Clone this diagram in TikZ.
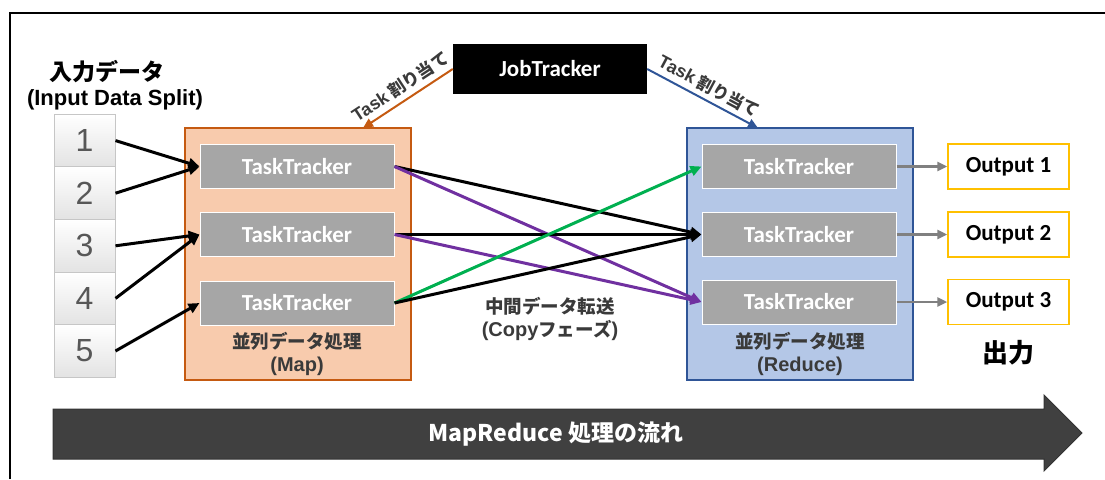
\documentclass[tikz,border=0pt]{standalone}
\usepackage{fontspec}
\setsansfont{Carlito}
\newfontfamily\jp{Noto Sans CJK JP}
\newfontfamily\numfont{Liberation Sans}
\usepackage{tikz}
\usetikzlibrary{arrows.meta}
\definecolor{mapfill}{HTML}{F8CBAD}
\definecolor{mapline}{HTML}{C55A11}
\definecolor{redfill}{HTML}{B4C7E7}
\definecolor{redline}{HTML}{2F5597}
\definecolor{ttgray}{HTML}{A6A6A6}
\definecolor{outline}{HTML}{FFC000}
\definecolor{shufpurple}{HTML}{7030A0}
\definecolor{shufgreen}{HTML}{00B050}
\definecolor{darktext}{HTML}{3A3A3A}
\definecolor{flowfill}{HTML}{404040}
\newcommand{\lat}[1]{{\numfont\bfseries #1}}
\pgfkeys{tikz/tracker/.style={fill=ttgray, draw=white, line width=1pt,
                                  minimum width=194pt, minimum height=44pt, inner sep=0pt,
                                  text=white, font=\sffamily\bfseries\fontsize{23}{25}\selectfont}}
\pgfkeys{tikz/split/.style={top color=white, bottom color=gray!22, draw=gray!45, line width=1pt,
                                minimum width=61pt, minimum height=52.6pt, inner sep=0pt,
                                text=darktext!85, font=\numfont\fontsize{32}{34}\selectfont}}
\pgfkeys{tikz/stage/.style={line width=2.5pt, minimum width=226pt, minimum height=252pt, inner sep=0pt}}
\pgfkeys{tikz/outbox/.style={draw=outline, line width=1.5pt, fill=white,
                                 minimum width=121pt, minimum height=45pt, inner sep=0pt,
                                 font=\sffamily\bfseries\fontsize{23}{25}\selectfont}}
\pgfkeys{tikz/jplabel/.style={text=darktext, align=center,
                                  font=\jp\bfseries\fontsize{18.5}{23}\selectfont}}
\pgfkeys{tikz/tasklabel/.style={midway, above, sloped, inner sep=5pt, text=darktext,
                                    font=\jp\bfseries\fontsize{17}{19}\selectfont}}
\pgfkeys{tikz/link/.style={line width=3pt, -{Triangle[length=11pt,width=10pt]}}}

\begin{document}
\begin{tikzpicture}[x=1pt, y=-1pt]
                \useasboundingbox (0,0) rectangle (1105,479);
                \draw[line width=2.5pt] (10,479) -- (10,13) -- (1105,13);

                \node (intitle) at (107, 72) {\jp\bfseries\fontsize{23}{25}\selectfont 入力データ};
                \node (insub) at (115, 100) {\fontsize{22}{24}\selectfont\lat{(Input Data Split)}};

                \node[split] (in1) at (84.5, 140.6) {1};
                \node[split] (in2) at (84.5, 193.2) {2};
                \node[split] (in3) at (84.5, 245.8) {3};
                \node[split] (in4) at (84.5, 298.4) {4};
                \node[split] (in5) at (84.5, 351.0) {5};

                \node[stage, fill=mapfill, draw=mapline] (mapbox) at (298, 254) {};
                \node[stage, fill=redfill, draw=redline] (redbox) at (800, 254) {};

                \node[tracker] (m1) at (297, 166.5) {TaskTracker};
                \node[tracker] (m2) at (297, 234.5) {TaskTracker};
                \node[tracker] (m3) at (297, 303) {TaskTracker};

                \node[tracker] (r1) at (799, 166.5) {TaskTracker};
                \node[tracker] (r2) at (799, 234.5) {TaskTracker};
                \node[tracker] (r3) at (799, 302) {TaskTracker};

                \node[jplabel] (maplabel) at (297, 354) {並列データ処理\\\fontsize{20}{23}\selectfont\lat{(Map)}};
                \node[jplabel] (redlabel) at (800, 354) {並列データ処理\\\fontsize{20}{23}\selectfont\lat{(Reduce)}};
                \node[jplabel] (copylabel) at (550, 319) {中間データ転送\\{\fontsize{20}{23}\selectfont\lat{(Copy}}フェーズ{\fontsize{20}{23}\selectfont\lat{)}}};

                \node[fill=black, minimum width=194pt, minimum height=50pt, inner sep=0pt,
                      text=white, font=\sffamily\bfseries\fontsize{23}{25}\selectfont] (jt) at (550, 69) {JobTracker};
                \coordinate (mapin) at (363, 128);
                \coordinate (redin) at (758, 128);

                \draw[line width=2pt, mapline, -{Triangle[length=10pt,width=9pt]}] (jt.west) -- (mapin)
                    node[tasklabel] (tasknl) {{\fontsize{18}{19}\selectfont\lat{Task}} 割り当て};
                \draw[line width=2pt, redline, -{Triangle[length=10pt,width=9pt]}] (jt.east) -- (redin)
                    node[tasklabel] (tasknr) {{\fontsize{18}{19}\selectfont\lat{Task}} 割り当て};

                \draw[link] (in1.east) -- (m1.west);
                \draw[link] (in2.east) -- (m1.west);
                \draw[link] (in3.east) -- (m2.west);
                \draw[link] (in4.east) -- (m2.west);
                \draw[link] (in5.east) -- (m3.west);

                \draw[link] (m1.east) -- (r2.west);
                \draw[link, shufpurple] (m1.east) -- (r3.west);
                \draw[link] (m2.east) -- (r2.west);
                \draw[link, shufpurple] (m2.east) -- (r3.west);
                \draw[link, shufgreen] (m3.east) -- (r1.west);
                \draw[link] (m3.east) -- (r2.west);

                \node[outbox] (o1) at (1008.5, 166.5) {Output 1};
                \node[outbox] (o2) at (1008.5, 234.5) {Output 2};
                \node[outbox] (o3) at (1008.5, 302) {Output 3};

                \draw[line width=2.5pt, gray, -{Triangle[length=10pt,width=9pt]}] (r1.east) -- (o1.west);
                \draw[line width=2.5pt, gray, -{Triangle[length=10pt,width=9pt]}] (r2.east) -- (o2.west);
                \draw[line width=2.5pt, gray, -{Triangle[length=10pt,width=9pt]}] (r3.east) -- (o3.west);

                \node (outtitle) at (1008, 353) {\jp\bfseries\fontsize{26}{28}\selectfont 出力};

                \draw[fill=flowfill, draw=black!80, line width=1pt] (53,409) -- (1044,409) -- (1044,395) -- (1082,433)
                    -- (1044,471) -- (1044,459) -- (53,459) -- cycle;
                \node[text=white, font=\jp\bfseries\fontsize{23}{25}\selectfont] (flowtext) at (556, 434) {MapReduce 処理の流れ};
\end{tikzpicture}
\end{document}
